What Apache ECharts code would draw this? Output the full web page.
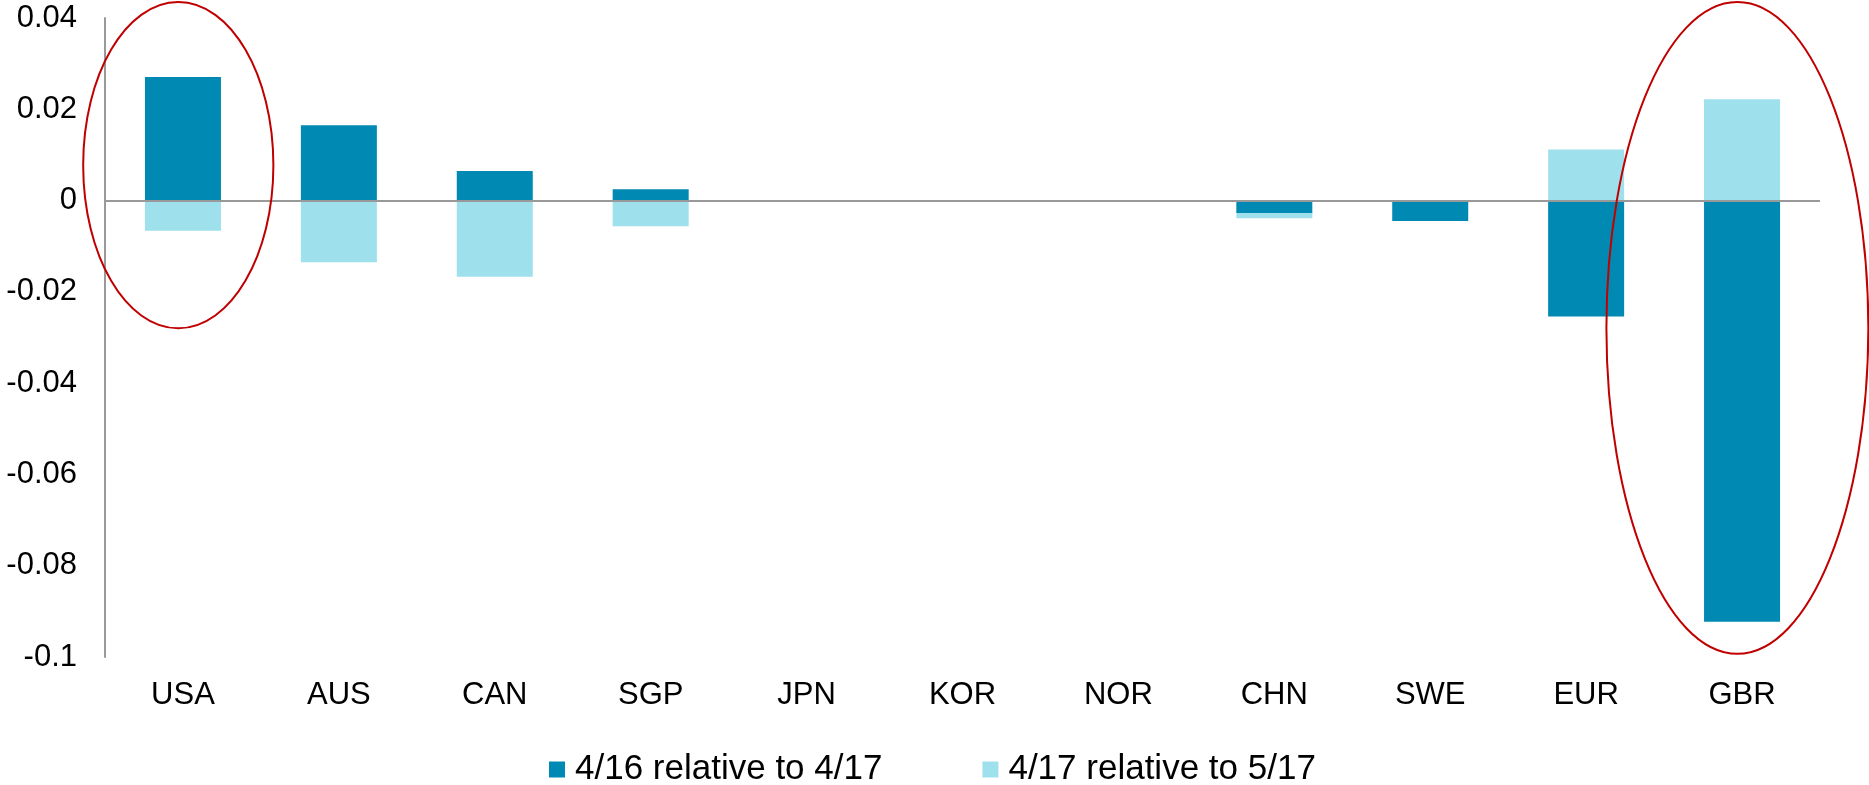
<!DOCTYPE html>
<html>

<head>
    <meta charset="utf-8">
    <title>ECharts</title>
    <script src="https://cdn.jsdelivr.net/npm/echarts@6/dist/echarts.min.js"></script>
    <style>
        html, body { margin: 0; padding: 0; background: #fff; }
    </style>
</head>

<body>
    <div id="main" style="width: 1869px;height:785px;"></div>
    <script type="text/javascript">
        // categories and values
        var countries = ['USA', 'AUS', 'CAN', 'SGP', 'JPN', 'KOR', 'NOR', 'CHN', 'SWE', 'EUR', 'GBR'];
        var seriesNames = ['4/16 relative to 4/17', '4/17 relative to 5/17'];
        var change1617 = [0.0271, 0.0165, 0.0065, 0.0025, 0, 0, 0, -0.0027, -0.0045, -0.0254, -0.0923];
        var change1717 = [-0.0066, -0.0135, -0.0167, -0.0056, 0, 0, 0, -0.0012, 0, 0.0112, 0.0222];
        var yTicks = { min: -0.1, max: 0.04, step: 0.02 };

        // red circles drawn round two countries (value span, half width in categories)
        var highlights = [
            { cat: 'USA', top: 0.0435, bottom: -0.028, half: 0.61, shift: -0.03 },
            { cat: 'GBR', top: 0.0435, bottom: -0.0993, half: 0.84, shift: -0.03 }
        ];

        var font = '"Liberation Sans", Arial, sans-serif';
        var myChart = echarts.init(document.getElementById('main'));

        var option = {
            animation: false,
            backgroundColor: '#fff',
            textStyle: { fontFamily: font },
            grid: { left: 105, right: 49, top: 18, bottom: 128 },
            legend: {
                left: 544,
                top: 747,
                itemWidth: 16,
                itemHeight: 16,
                itemGap: 100,
                icon: 'rect',
                textStyle: { fontSize: 35, color: '#000', fontFamily: font, padding: [0, 0, 0, 5] },
                data: seriesNames
            },
            xAxis: {
                type: 'category',
                data: countries,
                axisLine: { show: false, onZero: false },
                axisTick: { show: false },
                axisLabel: { color: '#000', fontSize: 31, margin: 23, fontFamily: font }
            },
            yAxis: {
                type: 'value',
                min: yTicks.min,
                max: yTicks.max,
                interval: yTicks.step,
                axisLine: { show: true, lineStyle: { color: '#999', width: 2 } },
                axisTick: { show: false },
                splitLine: { show: false },
                axisLabel: { color: '#000', fontSize: 31, margin: 28, fontFamily: font }
            },
            series: [
                {
                    name: seriesNames[0],
                    type: 'bar',
                    stack: 'total',
                    barWidth: 76,
                    itemStyle: { color: '#0089B2' },
                    data: change1617,
                    // 零线
                    markLine: {
                        silent: true,
                        symbol: 'none',
                        label: { show: false },
                        lineStyle: { color: '#999', width: 2, type: 'solid' },
                        data: [{ yAxis: 0 }]
                    }
                },
                {
                    name: seriesNames[1],
                    type: 'bar',
                    stack: 'total',
                    barWidth: 76,
                    itemStyle: { color: '#9EE0EC' },
                    data: change1717
                }
            ]
        };
        myChart.setOption(option);

        // ellipses placed through the chart's own scales
        var shapes = highlights.map(function (h) {
            var idx = countries.indexOf(h.cat);
            var top = myChart.convertToPixel({ gridIndex: 0 }, [idx, h.top]);
            var bot = myChart.convertToPixel({ gridIndex: 0 }, [idx, h.bottom]);
            var nxt = myChart.convertToPixel({ gridIndex: 0 }, [Math.min(idx + 1, countries.length - 1), 0]);
            var prv = myChart.convertToPixel({ gridIndex: 0 }, [Math.max(idx - 1, 0), 0]);
            var step = idx + 1 < countries.length ? nxt[0] - top[0] : top[0] - prv[0];
            return {
                type: 'ellipse',
                silent: true,
                z: 100,
                shape: {
                    cx: top[0] + h.shift * step,
                    cy: (top[1] + bot[1]) / 2,
                    rx: h.half * step,
                    ry: (bot[1] - top[1]) / 2
                },
                style: { fill: 'none', stroke: '#C00000', lineWidth: 2 }
            };
        });
        myChart.setOption({ graphic: shapes });
    </script>
</body>

</html>
